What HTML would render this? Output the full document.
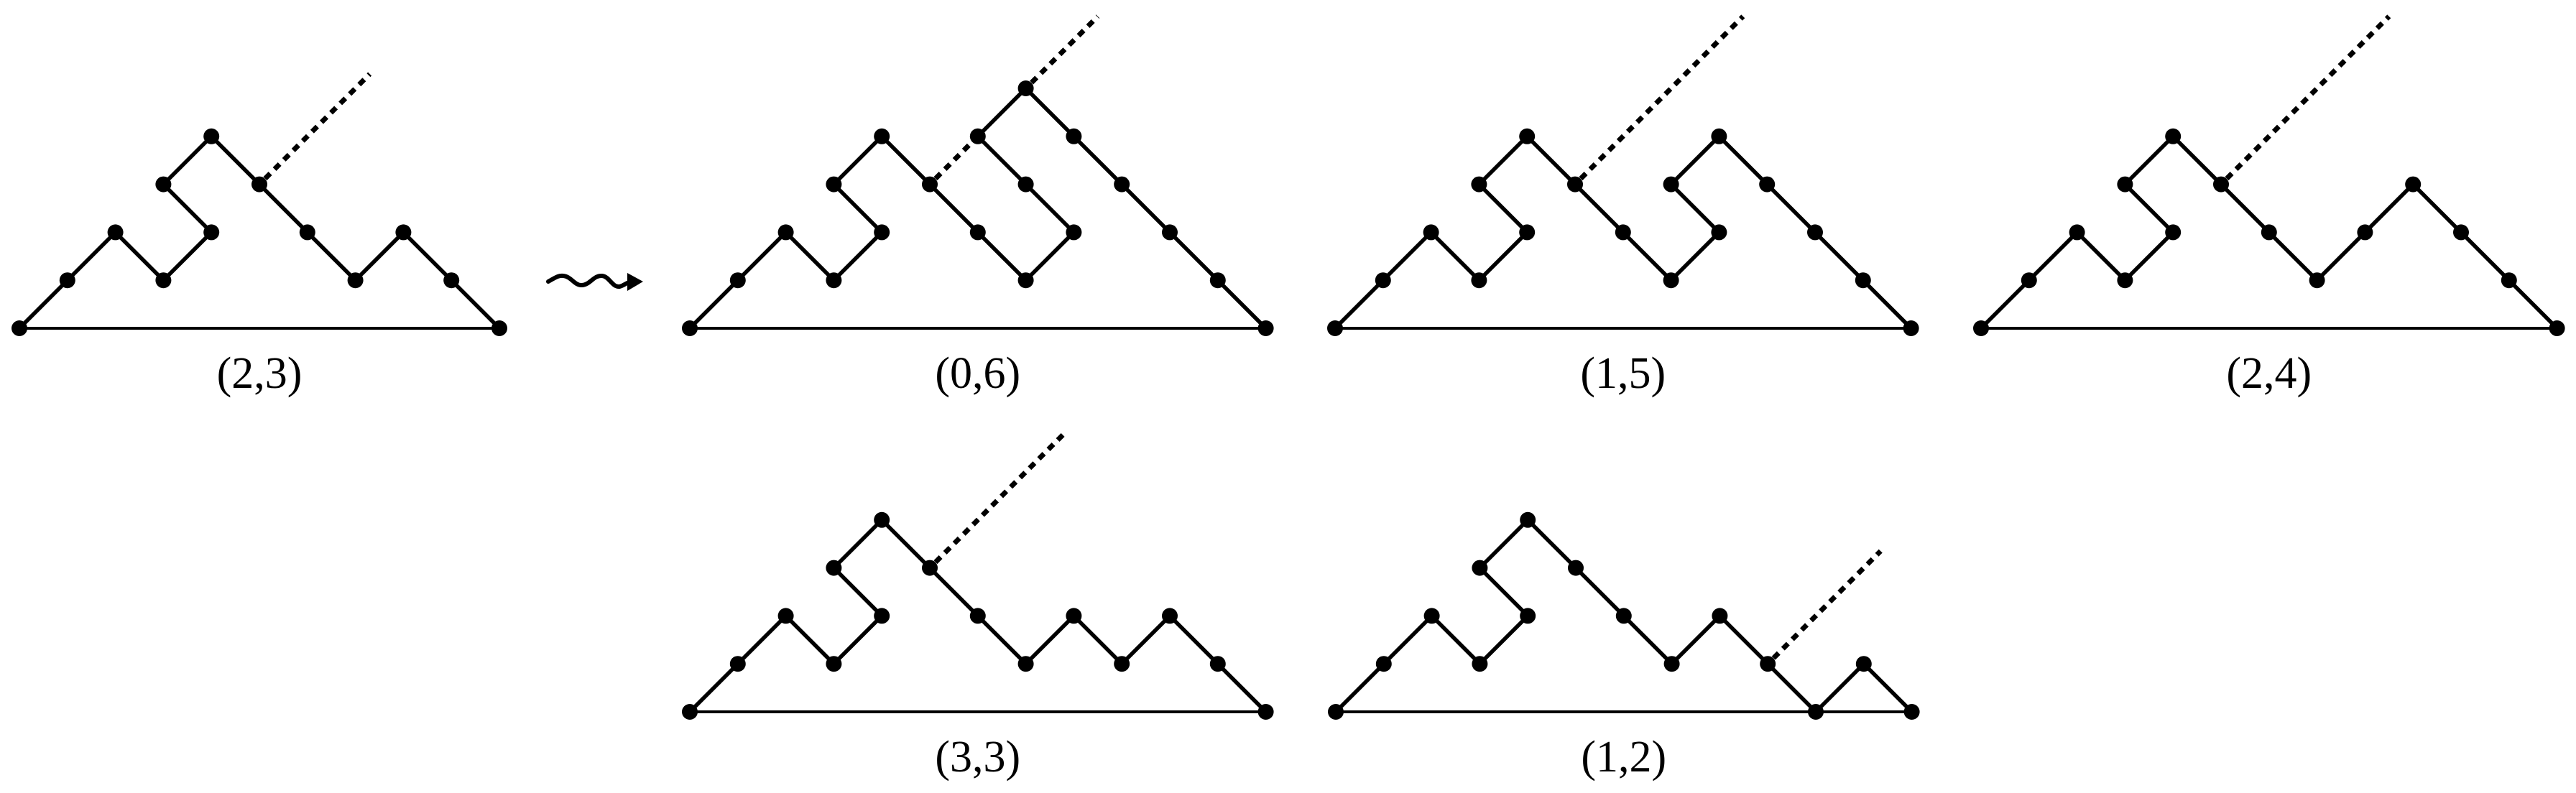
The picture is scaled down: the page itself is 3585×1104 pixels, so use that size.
<!DOCTYPE html>
<html><head><meta charset="utf-8"><style>
html,body{margin:0;padding:0;background:#fff;}
svg{display:block;}
text{font-family:"Liberation Serif",serif;font-size:62px;fill:#000;}
</style></head><body>
<svg width="3585" height="1104" viewBox="0 0 3585 1104" xmlns="http://www.w3.org/2000/svg">
<defs>
<marker id="d" markerUnits="userSpaceOnUse" markerWidth="24" markerHeight="24" refX="12" refY="12" overflow="visible"><circle cx="12" cy="12" r="11" fill="#000"/></marker>
</defs>
<g fill="none" stroke="#000" stroke-width="5.5" stroke-linejoin="round" marker-start="url(#d)" marker-mid="url(#d)" marker-end="url(#d)">
<polyline points="27,457 93.8,390.2 160.6,323.4 227.4,390.2 294.2,323.4 227.4,256.6 294.2,189.8 361,256.6 427.8,323.4 494.6,390.2 561.4,323.4 628.2,390.2 695,457"/>
<polyline points="960,457 1026.8,390.2 1093.6,323.4 1160.4,390.2 1227.2,323.4 1160.4,256.6 1227.2,189.8 1294,256.6 1360.8,323.4 1427.6,390.2 1494.4,323.4 1427.6,256.6 1360.8,189.8 1427.6,123 1494.4,189.8 1561.2,256.6 1628,323.4 1694.8,390.2 1761.6,457"/>
<polyline points="1858,457 1924.8,390.2 1991.6,323.4 2058.4,390.2 2125.2,323.4 2058.4,256.6 2125.2,189.8 2192,256.6 2258.8,323.4 2325.6,390.2 2392.4,323.4 2325.6,256.6 2392.4,189.8 2459.2,256.6 2526,323.4 2592.8,390.2 2659.6,457"/>
<polyline points="2757,457 2823.8,390.2 2890.6,323.4 2957.4,390.2 3024.2,323.4 2957.4,256.6 3024.2,189.8 3091,256.6 3157.8,323.4 3224.6,390.2 3291.4,323.4 3358.2,256.6 3425,323.4 3491.8,390.2 3558.6,457"/>
<polyline points="960,991 1026.8,924.2 1093.6,857.4 1160.4,924.2 1227.2,857.4 1160.4,790.6 1227.2,723.8 1294,790.6 1360.8,857.4 1427.6,924.2 1494.4,857.4 1561.2,924.2 1628,857.4 1694.8,924.2 1761.6,991"/>
<polyline points="1859,991 1925.8,924.2 1992.6,857.4 2059.4,924.2 2126.2,857.4 2059.4,790.6 2126.2,723.8 2193,790.6 2259.8,857.4 2326.6,924.2 2393.4,857.4 2460.2,924.2 2527,991 2593.8,924.2 2660.6,991"/>
</g>
<g stroke="#000" stroke-width="4">
<line x1="27" y1="457" x2="695" y2="457"/>
<line x1="960" y1="457" x2="1761.6" y2="457"/>
<line x1="1858" y1="457" x2="2659.6" y2="457"/>
<line x1="2757" y1="457" x2="3558.6" y2="457"/>
<line x1="960" y1="991" x2="1761.6" y2="991"/>
<line x1="1859" y1="991" x2="2660.6" y2="991"/>
</g>
<g stroke="#000" stroke-width="7" stroke-dasharray="10 8.5">
<line x1="369" y1="248.6" x2="514.6" y2="103"/>
<line x1="1302" y1="248.6" x2="1352.8" y2="197.8"/>
<line x1="1435.6" y1="115" x2="1527.8" y2="22.8"/>
<line x1="2200" y1="248.6" x2="2425.8" y2="22.8"/>
<line x1="3099" y1="248.6" x2="3324.8" y2="22.8"/>
<line x1="1302" y1="782.6" x2="1481" y2="603.6"/>
<line x1="2468.2" y1="916.2" x2="2617.2" y2="767.2"/>
</g>
<path d="M763,392 C772,387 777,383 784,384 C795,385 800,398 810,397 C822,396 826,383 838,384 C848,385 852,400 862,399 C867,398 870,395 875,393" fill="none" stroke="#000" stroke-width="6" stroke-linecap="round"/>
<polygon points="873,380 895,392 873,405" fill="#000"/>
<g text-anchor="middle">
<text x="361" y="540">(2,3)</text>
<text x="1360.8" y="540">(0,6)</text>
<text x="2258.8" y="540">(1,5)</text>
<text x="3157.8" y="540">(2,4)</text>
<text x="1360.8" y="1074">(3,3)</text>
<text x="2259.8" y="1074">(1,2)</text>
</g>
</svg>
</body></html>
